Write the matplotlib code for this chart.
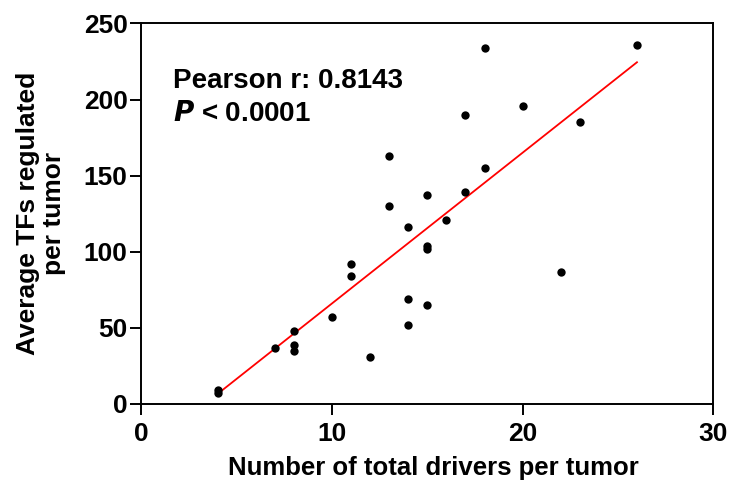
import numpy as np
import matplotlib
matplotlib.use("Agg")
import matplotlib.pyplot as plt

# values
drivers = [4, 4, 7, 8, 8, 8, 10, 11, 11, 12, 13, 13, 14, 14, 14,
           15, 15, 15, 15, 16, 17, 17, 18, 18, 20, 22, 23, 26]
tfs = [9, 7, 37, 48, 39, 35, 57, 92, 84, 31, 163, 130, 116, 69, 52,
       137, 104, 102, 65, 121, 190, 139, 234, 155, 196, 87, 185, 236]
x_ticks = [0, 10, 20, 30]
y_ticks = [0, 50, 100, 150, 200, 250]

plt.rcParams['font.family'] = ['Liberation Sans', 'DejaVu Sans']
plt.rcParams['font.weight'] = 'bold'

fig = plt.figure(figsize=(7.32, 4.91), dpi=100)
ax = fig.add_axes([0.1933, 0.1772, 0.781, 0.775])

ax.scatter(drivers, tfs, s=36, color='black', zorder=3, linewidths=0)

# linear fit, drawn over the range of the data
slope, icpt = np.polyfit(drivers, tfs, 1)
xs = np.array([min(drivers), max(drivers)])
ax.plot(xs, slope * xs + icpt, color='red', lw=1.3, zorder=2)

ax.set_xlim(0, 30)
ax.set_ylim(0, 250)
ax.set_xticks(x_ticks)
ax.set_yticks(y_ticks)
ax.tick_params(direction='out', length=8, width=1.4, labelsize=19)
ax.tick_params(axis='x', pad=5)
ax.tick_params(axis='y', pad=2)
for sp in ax.spines.values():
    sp.set_linewidth(1.4)

ax.set_xlabel("Number of total drivers per tumor", fontsize=18.5,
              fontweight='bold', labelpad=7)
ax.xaxis.label.set_x(0.51)
ax.set_ylabel("Average TFs regulated\nper tumor", fontsize=19,
              fontweight='bold', labelpad=13, linespacing=1.1)

ax.text(0.055, 0.848, "Pearson r: 0.8143", transform=ax.transAxes,
        fontsize=20, fontweight='bold', va='center')
ax.text(0.055, 0.762, r"$\bfit{P}$ < 0.0001", transform=ax.transAxes,
        fontsize=20, fontweight='bold', va='center')

fig.savefig("out.png", dpi=100)
